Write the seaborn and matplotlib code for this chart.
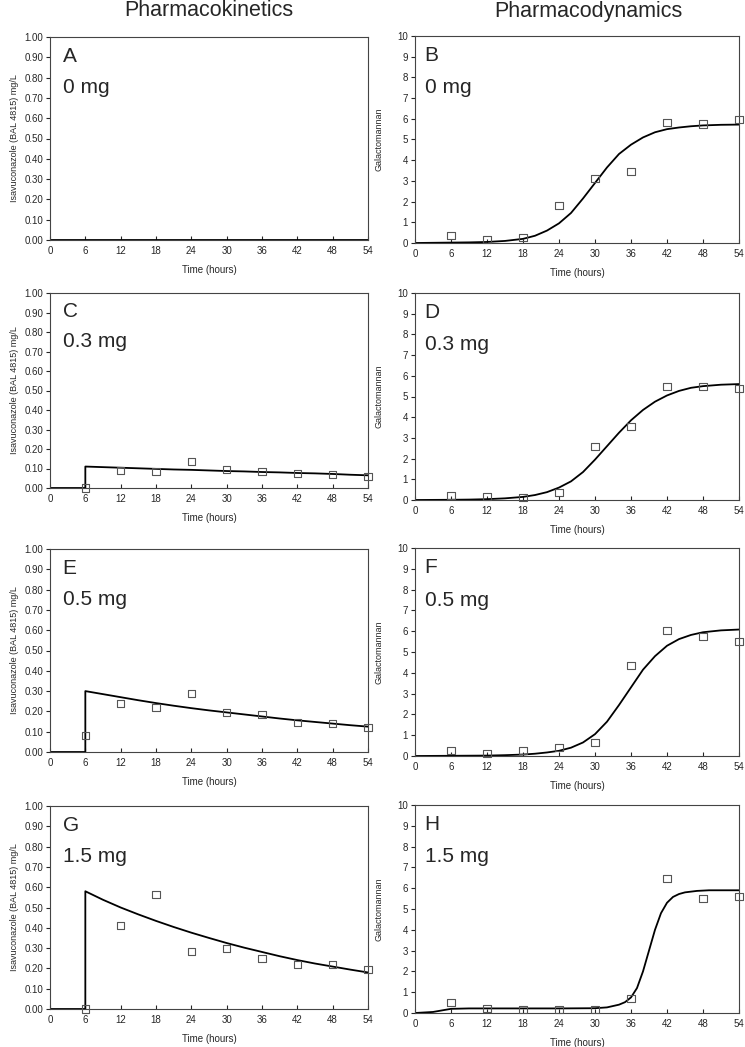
import numpy as np
import pandas as pd
import seaborn as sns
import matplotlib.pyplot as plt

# observed sampling times
obs_t = [6, 12, 18, 24, 30, 36, 42, 48, 54]

# pharmacokinetics - observed
pk_obs_c = [0.00, 0.09, 0.085, 0.135, 0.095, 0.085, 0.075, 0.07, 0.06]
pk_obs_e = [0.08, 0.24, 0.22, 0.29, 0.195, 0.185, 0.145, 0.14, 0.12]
pk_obs_g = [0.00, 0.41, 0.565, 0.285, 0.30, 0.25, 0.22, 0.22, 0.195]

# pharmacokinetics - fitted curves
pk_fit_t = [0, 6, 6, 9, 12, 15, 18, 21, 24, 27, 30, 33, 36, 39, 42, 45, 48, 51, 54]
pk_fit_a = [0] * 19
pk_fit_c = [0, 0, 0.110, 0.107, 0.104, 0.101, 0.098, 0.095, 0.093, 0.090, 0.087,
            0.085, 0.082, 0.080, 0.077, 0.075, 0.072, 0.068, 0.065]
pk_fit_e = [0, 0, 0.300, 0.285, 0.270, 0.255, 0.241, 0.228, 0.216, 0.205, 0.195,
            0.185, 0.175, 0.165, 0.156, 0.148, 0.140, 0.132, 0.125]
pk_fit_g = [0, 0, 0.580, 0.538, 0.500, 0.466, 0.434, 0.404, 0.376, 0.350, 0.325,
            0.302, 0.281, 0.260, 0.241, 0.224, 0.209, 0.194, 0.180]

# pharmacodynamics - observed galactomannan
pd_obs_b = [0.35, 0.15, 0.25, 1.8, 3.1, 3.45, 5.8, 5.75, 5.95]
pd_obs_d = [0.2, 0.15, 0.1, 0.35, 2.6, 3.55, 5.5, 5.5, 5.4]
pd_obs_f = [0.25, 0.1, 0.25, 0.4, 0.65, 4.35, 6.05, 5.75, 5.5]
pd_obs_h = [0.5, 0.2, 0.15, 0.18, 0.15, 0.7, 6.45, 5.5, 5.6]

# pharmacodynamics - fitted curves
pd_fit_t = [0, 3, 6, 9, 12, 15, 18, 20, 22, 24, 26, 28, 30, 32, 34, 36, 38, 40,
            42, 44, 46, 48, 51, 54]
pd_fit_b = [0, 0.01, 0.02, 0.03, 0.05, 0.1, 0.2, 0.35, 0.6, 0.95, 1.45, 2.15,
            2.9, 3.65, 4.3, 4.75, 5.1, 5.35, 5.5, 5.58, 5.64, 5.68, 5.71, 5.72]
pd_fit_d = [0, 0.005, 0.01, 0.02, 0.04, 0.08, 0.15, 0.24, 0.38, 0.6, 0.9, 1.35,
            1.95, 2.6, 3.25, 3.85, 4.35, 4.75, 5.05, 5.27, 5.42, 5.5, 5.57, 5.6]
pd_fit_f = [0, 0.005, 0.01, 0.015, 0.02, 0.04, 0.07, 0.11, 0.17, 0.25, 0.4, 0.65,
            1.05, 1.65, 2.45, 3.3, 4.15, 4.8, 5.3, 5.62, 5.82, 5.95, 6.04, 6.08]
pd_fit_h_t = [0, 3, 6, 9, 12, 18, 24, 30, 32, 34, 35, 36, 37, 38, 39, 40, 41, 42,
              43, 44, 45, 47, 49, 54]
pd_fit_h = [0, 0.05, 0.2, 0.22, 0.22, 0.22, 0.22, 0.23, 0.27, 0.4, 0.52, 0.75, 1.2,
            2.0, 3.0, 4.0, 4.8, 5.3, 5.58, 5.72, 5.8, 5.87, 5.9, 5.9]

sns.set_style("ticks")
plt.rcParams['font.family'] = ['Liberation Sans', 'DejaVu Sans']

W, H = 745, 1047
fig = plt.figure(figsize=(W / 100, H / 100), dpi=100)


def box(x0, x1, y0, y1):
    return [x0 / W, 1 - y1 / H, (x1 - x0) / W, (y1 - y0) / H]


def panel(rect, fit_t, fit_y, obs_y, letter, dose, pk):
    ax = fig.add_axes(rect)
    sns.lineplot(x=fit_t, y=fit_y, ax=ax, color='black', lw=1.3,
                 estimator=None, sort=False)
    if obs_y is not None:
        sns.scatterplot(x=obs_t, y=obs_y, ax=ax, marker='s', s=26,
                        facecolor='none', edgecolor='#555555', linewidth=0.8,
                        clip_on=False, zorder=3)
    ax.set_xlim(0, 54)
    ax.set_xticks(range(0, 55, 6))
    if pk:
        ax.set_ylim(0, 1)
        ax.set_yticks(np.arange(0, 1.01, 0.1))
        ax.set_yticklabels(['%.2f' % v for v in np.arange(0, 1.01, 0.1)])
        ax.set_ylabel('Isavuconazole (BAL 4815) mg/L', fontsize=6.5, labelpad=4)
        tx = 0.04
    else:
        ax.set_ylim(0, 10)
        ax.set_yticks(range(0, 11))
        ax.set_ylabel('Galactomannan', fontsize=6.5, labelpad=10)
        tx = 0.03
    ax.set_xlabel('Time (hours)', fontsize=7, labelpad=7)
    ax.tick_params(axis='x', direction='in', labelsize=7, length=3, pad=4)
    ax.tick_params(axis='y', direction='out', labelsize=7, length=3, pad=2)
    for s in ax.spines.values():
        s.set_visible(True)
        s.set_color('#444444')
        s.set_linewidth(0.8)
    ax.text(tx, 0.905, letter, transform=ax.transAxes, fontsize=15,
            va='center', ha='left')
    ax.text(tx, 0.75, dose, transform=ax.transAxes, fontsize=15,
            va='center', ha='left')
    return ax


left_rows = [(37, 240), (293, 488), (549, 752), (806, 1009)]
right_rows = [(36, 243), (293, 500), (548, 756), (805, 1013)]

panel(box(50, 368, *left_rows[0]), pk_fit_t, pk_fit_a, None, 'A', '0 mg', True)
panel(box(50, 368, *left_rows[1]), pk_fit_t, pk_fit_c, pk_obs_c, 'C', '0.3 mg', True)
panel(box(50, 368, *left_rows[2]), pk_fit_t, pk_fit_e, pk_obs_e, 'E', '0.5 mg', True)
panel(box(50, 368, *left_rows[3]), pk_fit_t, pk_fit_g, pk_obs_g, 'G', '1.5 mg', True)

panel(box(415, 739, *right_rows[0]), pd_fit_t, pd_fit_b, pd_obs_b, 'B', '0 mg', False)
panel(box(415, 739, *right_rows[1]), pd_fit_t, pd_fit_d, pd_obs_d, 'D', '0.3 mg', False)
panel(box(415, 739, *right_rows[2]), pd_fit_t, pd_fit_f, pd_obs_f, 'F', '0.5 mg', False)
panel(box(415, 739, *right_rows[3]), pd_fit_h_t, pd_fit_h, pd_obs_h, 'H', '1.5 mg', False)

fig.text(209 / W, 1 - 11 / H, 'Pharmacokinetics', fontsize=15.5, ha='center', va='center')
fig.text(588 / W, 1 - 11 / H, 'Pharmacodynamics', fontsize=15.5, ha='center', va='center')

fig.savefig('out.png', dpi=100)
